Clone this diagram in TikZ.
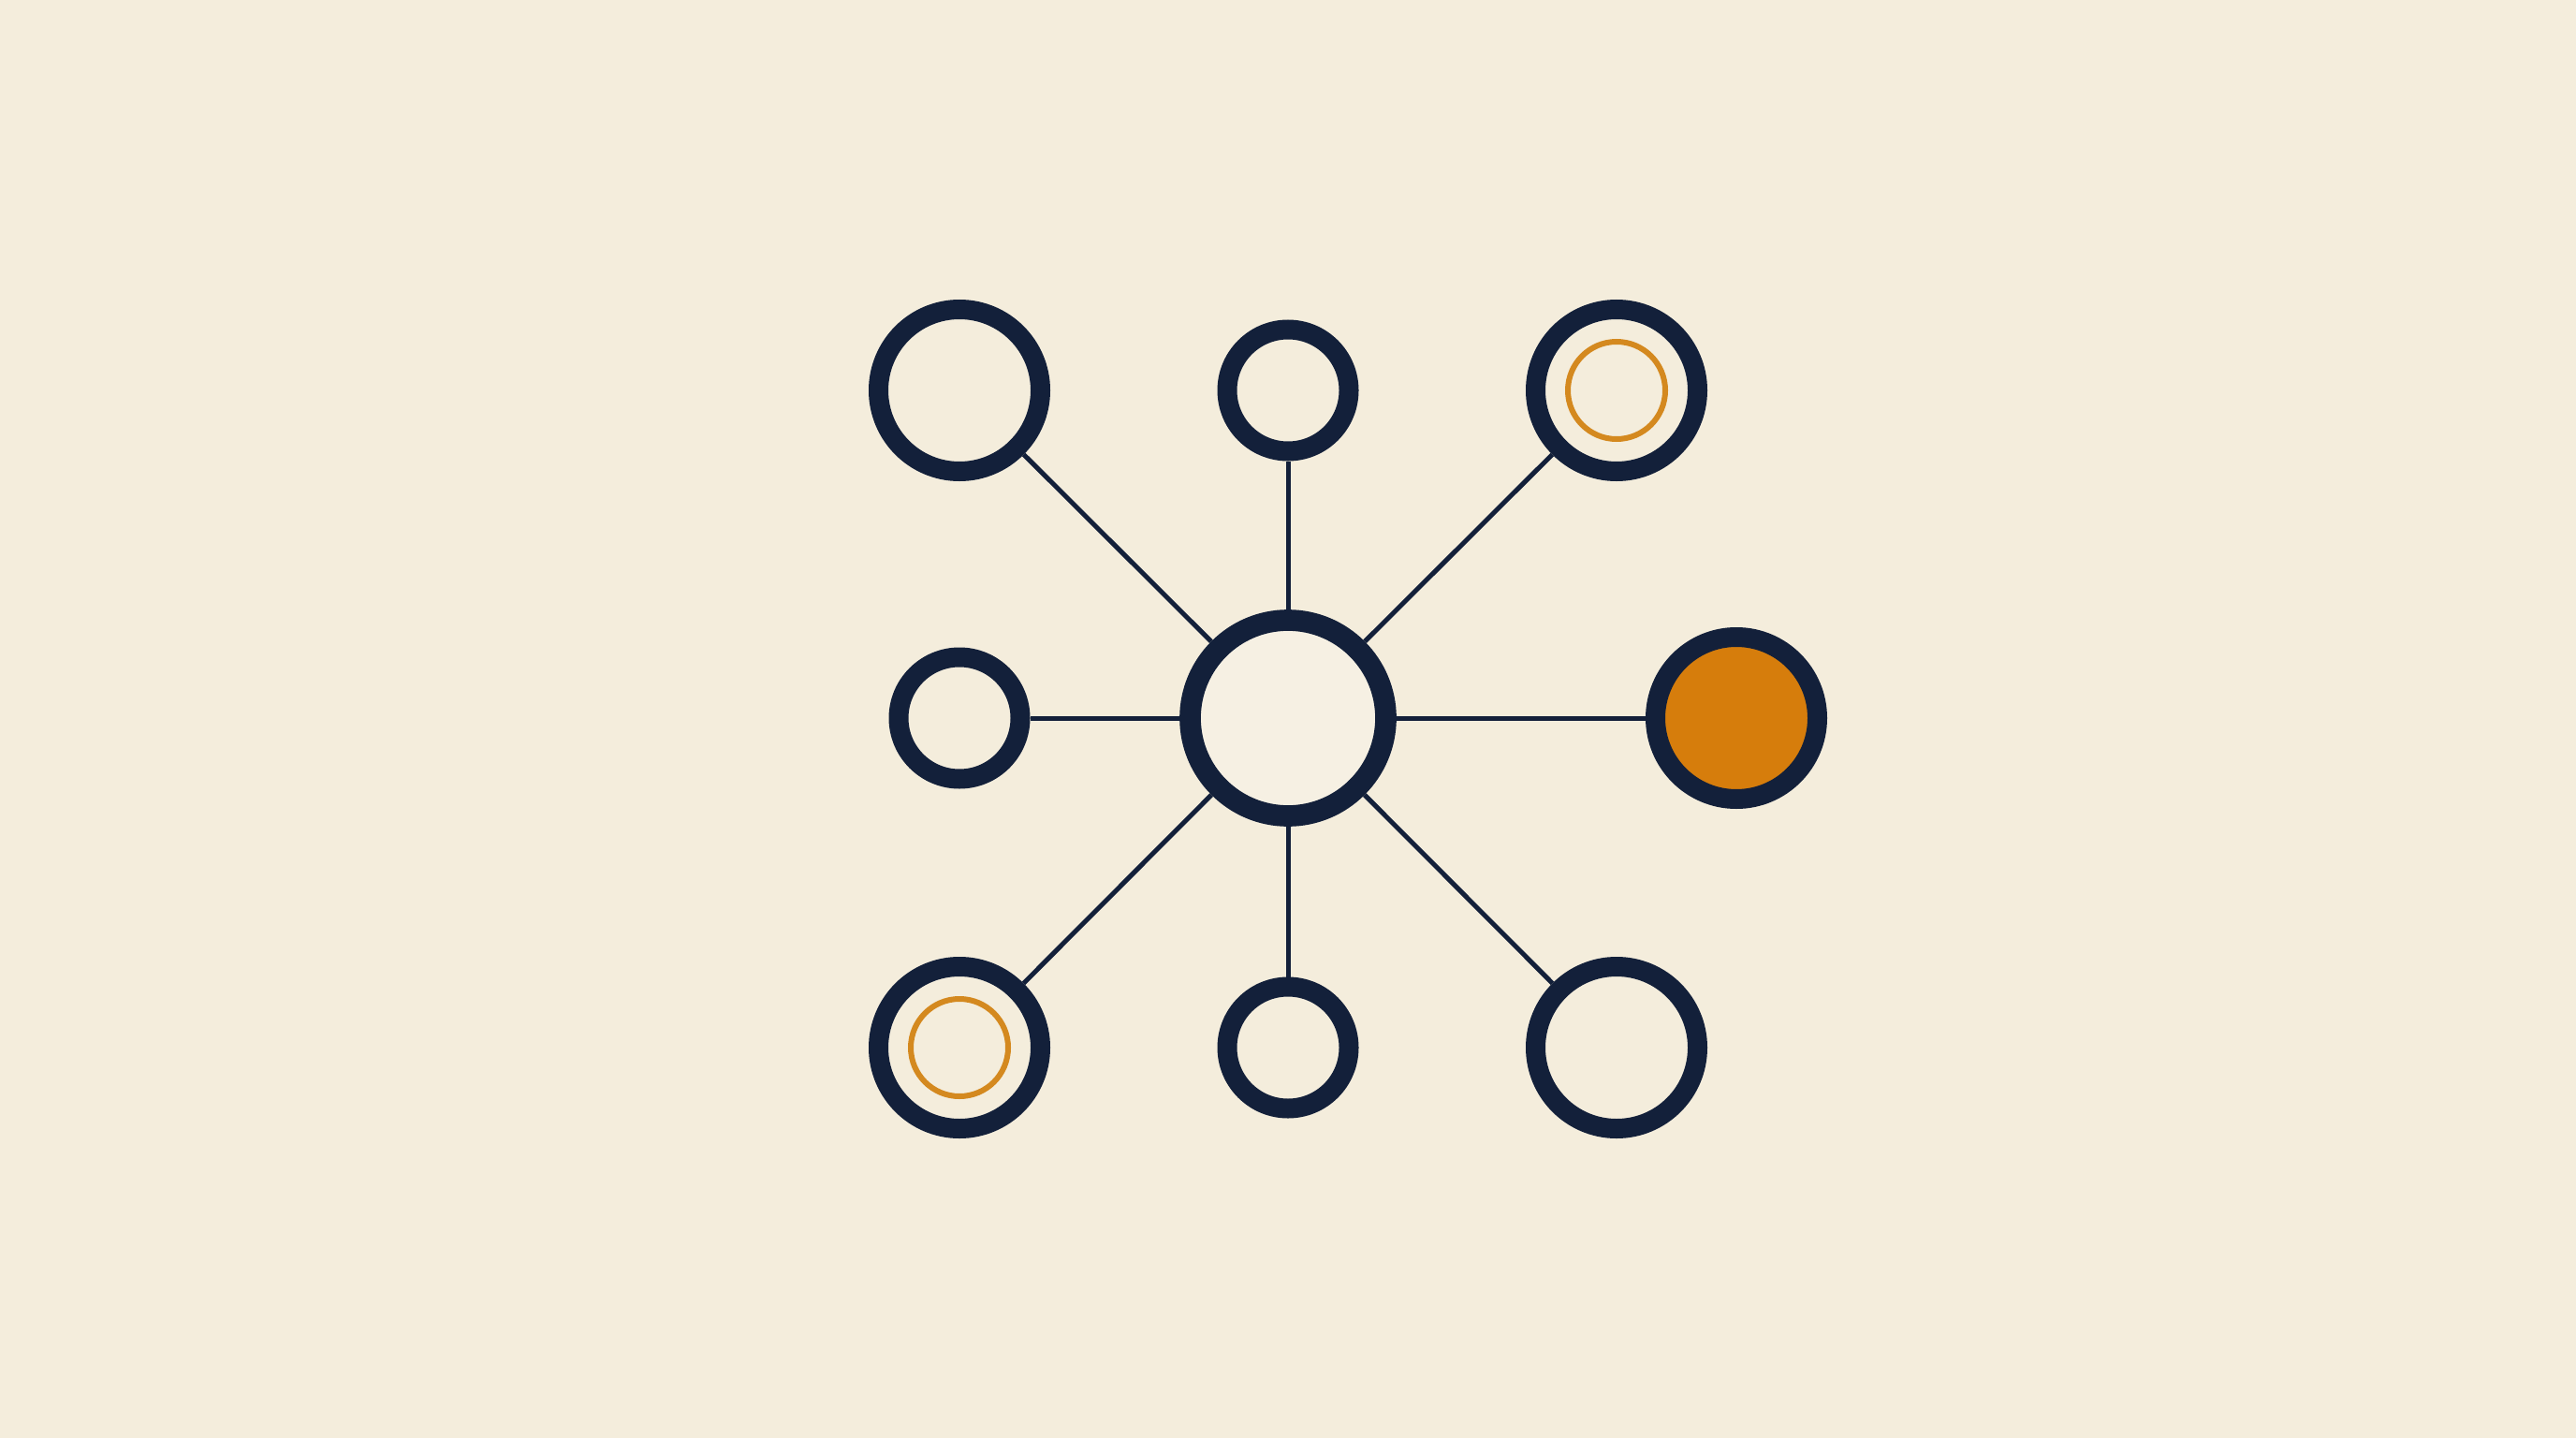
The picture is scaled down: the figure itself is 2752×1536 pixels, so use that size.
\documentclass[tikz,border=0pt]{standalone}
\usepackage{tikz}
\definecolor{bg}{HTML}{F4EDDC}
\definecolor{navy}{HTML}{13203A}
\definecolor{ora}{HTML}{D67D0C}
\definecolor{oring}{HTML}{D4891F}
\definecolor{cfill}{HTML}{F6F0E3}
\begin{document}
\begin{tikzpicture}[x=1pt,y=-1pt,
  ringbig/.style={circle,draw=navy,line width=21pt,fill=bg,minimum size=173pt,inner sep=0pt},
  ringsmall/.style={circle,draw=navy,line width=21pt,fill=bg,minimum size=130pt,inner sep=0pt},
  hub/.style={circle,draw=navy,line width=22.7pt,fill=cfill,minimum size=209pt,inner sep=0pt},
  inring/.style={circle,draw=oring,line width=6pt,minimum size=104pt,inner sep=0pt},
  link/.style={draw=navy,line width=5pt}]
\fill[bg] (0,0) rectangle (2752,1536);
\useasboundingbox (0,0) rectangle (2752,1536);
\node[hub] (c) at (1376,767) {};
\node[ringbig] (tl) at (1025,417) {};
\node[ringsmall] (tm) at (1376,417) {};
\node[ringbig] (tr) at (1727,417) {};
\node[ringsmall] (ml) at (1025,767) {};
\node[ringbig,fill=ora] (mr) at (1855,767) {};
\node[ringbig] (bl) at (1025,1119) {};
\node[ringsmall] (bm) at (1376,1119) {};
\node[ringbig] (br) at (1727,1119) {};
\node[inring] (tri) at (tr.center) {};
\node[inring] (bli) at (bl.center) {};
\foreach \n in {tl,tm,tr,ml,mr,bl,bm,br}{\draw[link] (c) -- (\n);}
\end{tikzpicture}
\end{document}
